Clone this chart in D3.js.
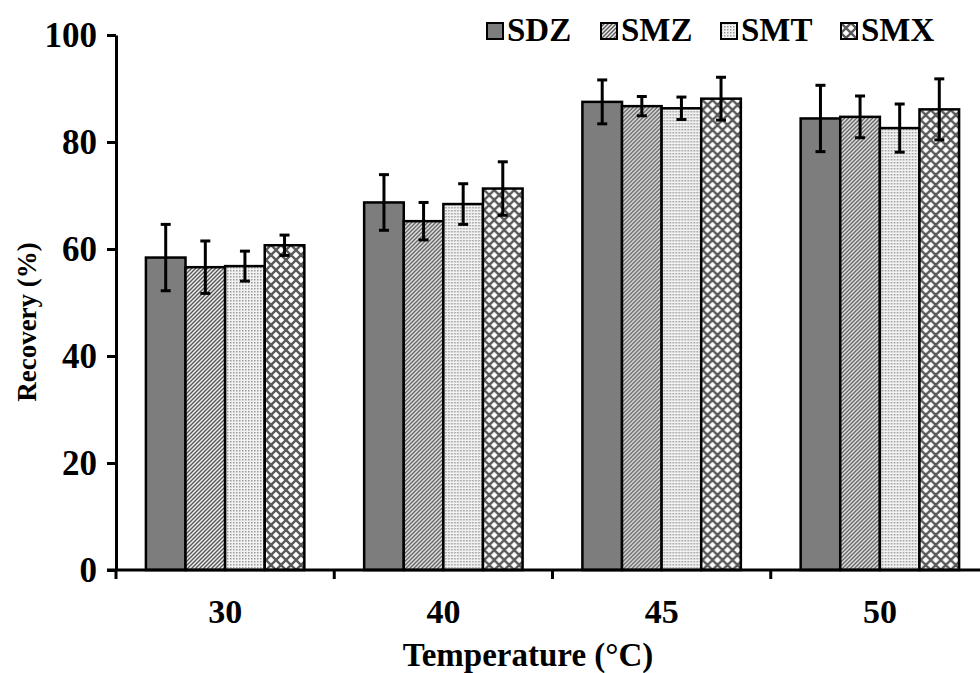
<!DOCTYPE html>
<html>
<head>
<meta charset="utf-8">
<script src="https://cdn.jsdelivr.net/npm/d3@7"></script>
<style>
  html, body { margin: 0; padding: 0; background: #fff; }
  svg { display: block; }
  text { font-family: "Liberation Serif", "Times New Roman", serif; font-weight: bold; fill: #000; }
</style>
</head>
<body>
<svg id="chart" width="980" height="673"></svg>
<script>
// Recovery of four sulfonamides at different extraction temperatures
const temperatures = ["30", "40", "45", "50"];
const seriesNames = ["SDZ", "SMZ", "SMT", "SMX"];
const recovery = {
  SDZ: [58.4, 68.7, 87.5, 84.4],
  SMZ: [56.6, 65.2, 86.7, 84.7],
  SMT: [56.8, 68.4, 86.3, 82.6],
  SMX: [60.7, 71.3, 88.1, 86.1]
};
const errors = {
  SDZ: [6.2, 5.2, 4.1, 6.2],
  SMZ: [4.9, 3.5, 1.8, 3.9],
  SMT: [2.8, 3.8, 2.1, 4.5],
  SMX: [1.9, 5.0, 4.0, 5.7]
};
const yTicks = [0, 20, 40, 60, 80, 100];

const svg = d3.select("#chart");
const plot = { left: 116, right: 989, top: 35, bottom: 570 };

// fill patterns for each series
const defs = svg.append("defs");
const hatch = defs.append("pattern").attr("id", "fill-SMZ")
  .attr("patternUnits", "userSpaceOnUse").attr("width", 4).attr("height", 4);
hatch.append("rect").attr("width", 4).attr("height", 4).attr("fill", "#ececec");
hatch.append("path").attr("d", "M-1,1 l2,-2 M0,4 l4,-4 M3,5 l2,-2")
  .attr("stroke", "#555").attr("stroke-width", 1.3);

const dots = defs.append("pattern").attr("id", "fill-SMT")
  .attr("patternUnits", "userSpaceOnUse").attr("width", 3).attr("height", 3);
dots.append("rect").attr("width", 3).attr("height", 3).attr("fill", "#f2f2f2");
dots.append("rect").attr("width", 1.5).attr("height", 1.5).attr("fill", "#9a9a9a");

const cross = defs.append("pattern").attr("id", "fill-SMX")
  .attr("patternUnits", "userSpaceOnUse").attr("width", 10).attr("height", 10);
cross.append("rect").attr("width", 10).attr("height", 10).attr("fill", "#fff");
cross.append("path").attr("d", "M0,0 L10,10 M10,0 L0,10 M-5,5 L5,15 M5,-5 L15,5 M5,-5 L-5,5 M15,5 L5,15")
  .attr("stroke", "#5a5a5a").attr("stroke-width", 2.4);

const fills = { SDZ: "#7d7d7d", SMZ: "url(#fill-SMZ)", SMT: "url(#fill-SMT)", SMX: "url(#fill-SMX)" };

const x0 = d3.scaleBand().domain(temperatures).range([plot.left, plot.right]).padding(0);
const x1 = d3.scaleBand().domain(seriesNames).range([0, x0.bandwidth()])
  .paddingInner(0).paddingOuter(0.755);
const y = d3.scaleLinear().domain([0, 100]).range([plot.bottom, plot.top]);

const rows = temperatures.map((t, i) => ({
  t, items: seriesNames.map(s => ({ s, v: recovery[s][i], e: errors[s][i] }))
}));

// bars
const groups = svg.append("g").selectAll("g").data(rows).join("g")
  .attr("transform", d => `translate(${x0(d.t)},0)`);
groups.selectAll("rect").data(d => d.items).join("rect")
  .attr("x", d => x1(d.s))
  .attr("y", d => y(d.v))
  .attr("width", x1.bandwidth())
  .attr("height", d => y(0) - y(d.v))
  .attr("fill", d => fills[d.s])
  .attr("stroke", "#000").attr("stroke-width", 2.5);

// error bars
const eb = groups.selectAll("g.err").data(d => d.items).join("g").attr("class", "err")
  .attr("transform", d => `translate(${x1(d.s) + x1.bandwidth() / 2},0)`)
  .attr("stroke", "#000").attr("stroke-width", 3);
eb.append("line").attr("y1", d => y(d.v + d.e)).attr("y2", d => y(d.v - d.e));
eb.append("line").attr("x1", -5).attr("x2", 5).attr("y1", d => y(d.v + d.e)).attr("y2", d => y(d.v + d.e));
eb.append("line").attr("x1", -5).attr("x2", 5).attr("y1", d => y(d.v - d.e)).attr("y2", d => y(d.v - d.e));

// y axis
const yAxis = svg.append("g").attr("transform", `translate(${plot.left},0)`)
  .call(d3.axisLeft(y).tickValues(yTicks).tickSize(9).tickSizeOuter(0).tickPadding(10));
yAxis.select(".domain").attr("stroke", "#000").attr("stroke-width", 3);
yAxis.selectAll(".tick line").attr("stroke", "#000").attr("stroke-width", 3);
yAxis.selectAll(".tick text").style("font-size", "35px").attr("font-family", null);

// x axis: line, boundary ticks, centered category labels
const xAxis = svg.append("g");
xAxis.append("line").attr("x1", plot.left - 9).attr("x2", plot.right)
  .attr("y1", y(0)).attr("y2", y(0)).attr("stroke", "#000").attr("stroke-width", 3);
const bounds = temperatures.map(t => x0(t)).concat([x0.range()[1]]);
xAxis.selectAll("line.tk").data(bounds).join("line").attr("class", "tk")
  .attr("x1", d => d).attr("x2", d => d).attr("y1", y(0)).attr("y2", y(0) + 9)
  .attr("stroke", "#000").attr("stroke-width", 3);
xAxis.selectAll("text").data(temperatures).join("text")
  .attr("x", d => x0(d) + x0.bandwidth() / 2).attr("y", 623)
  .attr("text-anchor", "middle").style("font-size", "34px").text(d => d);

// axis titles
svg.append("text").attr("x", 528).attr("y", 666).attr("text-anchor", "middle")
  .style("font-size", "33px").text("Temperature (°C)");
svg.append("text").attr("transform", "translate(36,322) rotate(-90)").attr("text-anchor", "middle")
  .style("font-size", "27px").text("Recovery (%)");

// legend
const legendX = [487, 601, 721, 841];
const legend = svg.append("g").selectAll("g").data(seriesNames).join("g")
  .attr("transform", (d, i) => `translate(${legendX[i]},23)`);
legend.append("rect").attr("width", 16).attr("height", 16)
  .attr("fill", d => fills[d]).attr("stroke", "#000").attr("stroke-width", 2);
legend.append("text").attr("x", 20).attr("y", 18).style("font-size", "33px").text(d => d);
</script>
</body>
</html>
